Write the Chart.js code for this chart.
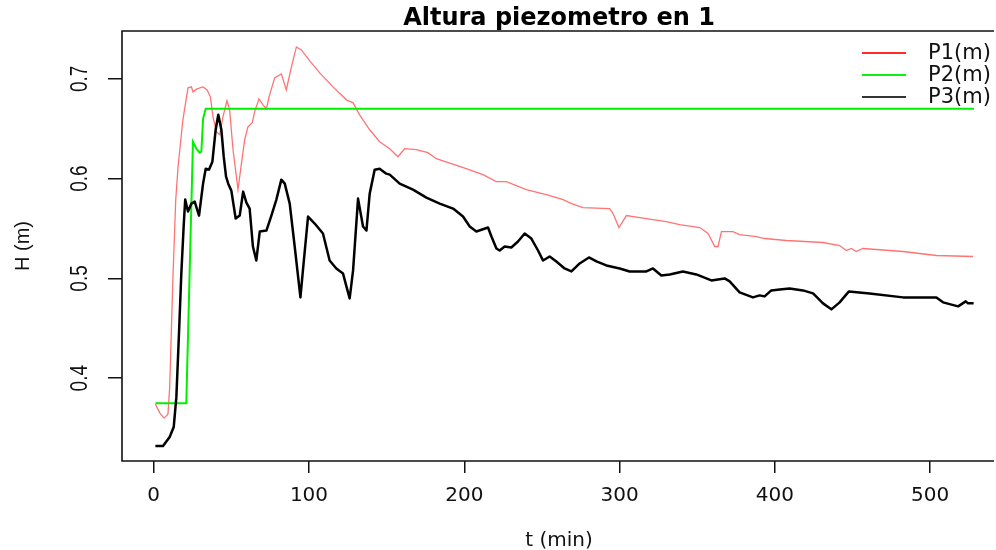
<!DOCTYPE html>
<html>
<head>
<meta charset="utf-8">
<title>Altura piezometro en 1</title>
<script src="https://cdn.jsdelivr.net/npm/chart.js@4/dist/chart.umd.min.js"></script>
<style>
  html, body { margin: 0; padding: 0; background: #fff; overflow: hidden; }
  canvas { display: block; }
</style>
</head>
<body>
<canvas id="chart" width="996" height="550"></canvas>
<script>
// Tick labels
const xTicks = [0, 100, 200, 300, 400, 500];
const yTicks = [0.4, 0.5, 0.6, 0.7];

// Series names
const seriesNames = ['P1(m)', 'P2(m)', 'P3(m)'];

// P1: time (min) and head (m)
const p1T = [1.1, 4.0, 6.7, 9.2, 10.3, 12.4, 14.2, 15.7, 18.8, 22.1, 24.3, 25.3, 27.9, 31.8, 34.4, 36.5,
  38.2, 40.4, 42.5, 44.6, 47.2, 48.9, 51.1, 54.3, 56.5, 58.6, 60.7, 63.5, 65.0, 67.8, 70.4, 72.6,
  74.3, 77.9, 82.2, 85.4, 88.7, 91.9, 95.1, 100.5, 106.9, 115.5, 124.1, 128.4, 132.6, 139.1, 145.5,
  152.0, 157.3, 161.6, 169.1, 176.6, 182.0, 201.3, 212.0, 220.6, 227.1, 239.9, 252.8, 263.6, 269.0,
  276.4, 293.6, 295.8, 299.6, 304.4, 317.2, 330.1, 338.7, 351.6, 357.0, 361.3, 363.4, 365.6, 373.0,
  377.3, 388.1, 393.4, 407.4, 431.0, 441.7, 446.0, 449.2, 452.4, 456.7, 482.5, 504.0, 527.6];
const p1H = [0.374, 0.365, 0.360, 0.364, 0.391, 0.501, 0.579, 0.612, 0.659, 0.691, 0.692, 0.687, 0.690, 0.692, 0.689, 0.682,
  0.662, 0.647, 0.644, 0.662, 0.678, 0.669, 0.629, 0.589, 0.615, 0.639, 0.652, 0.656, 0.667, 0.680, 0.674, 0.670,
  0.682, 0.701, 0.705, 0.689, 0.712, 0.732, 0.729, 0.718, 0.706, 0.692, 0.679, 0.676, 0.664, 0.649, 0.637,
  0.630, 0.622, 0.630, 0.629, 0.626, 0.620, 0.610, 0.604, 0.597, 0.597, 0.589, 0.584, 0.579, 0.575,
  0.571, 0.570, 0.565, 0.551, 0.563, 0.560, 0.557, 0.554, 0.551, 0.545, 0.532, 0.532, 0.547, 0.547,
  0.544, 0.542, 0.540, 0.538, 0.536, 0.533, 0.528, 0.530, 0.527, 0.530, 0.527, 0.523, 0.522];

// P2: time (min) and head (m)
const p2T = [1.1, 21.0, 25.3, 27.5, 29.6, 30.7, 31.8, 33.5, 528.2];
const p2H = [0.375, 0.375, 0.637, 0.630, 0.626, 0.627, 0.660, 0.670, 0.670];

// P3: time (min) and head (m)
const p3T = [1.1, 6.0, 10.3, 12.9, 14.6, 16.3, 17.8, 19.3, 20.3, 22.1, 24.3, 26.4, 29.2, 31.8, 33.5, 35.6,
  37.8, 39.9, 41.6, 43.6, 45.1, 46.6, 48.0, 50.0, 52.8, 55.4, 57.6, 59.7, 61.8, 63.9, 66.1, 68.3,
  72.6, 75.8, 79.0, 82.2, 84.4, 87.6, 90.8, 94.5, 96.1, 99.4, 103.7, 109.0, 113.3, 117.6, 121.9,
  124.1, 126.2, 128.4, 131.6, 134.8, 137.0, 139.1, 142.3, 145.5, 149.8, 152.0, 158.4, 167.0, 175.6,
  184.2, 192.8, 199.2, 203.5, 207.8, 215.3, 217.5, 220.7, 222.8, 226.0, 230.3, 234.6, 238.9, 243.2,
  247.5, 250.7, 255.0, 259.3, 264.6, 269.0, 274.3, 280.3, 285.1, 291.5, 300.1, 306.5, 317.3, 321.5,
  326.9, 332.3, 340.8, 349.4, 359.1, 367.7, 370.9, 377.3, 385.9, 390.2, 393.4, 397.7, 403.1, 409.5,
  418.1, 424.6, 431.0, 436.4, 441.7, 447.7, 461.0, 482.5, 504.0, 508.3, 518.0, 522.9, 524.4, 528.0];
const p3H = [0.332, 0.332, 0.341, 0.351, 0.381, 0.445, 0.505, 0.552, 0.579, 0.567, 0.575, 0.577, 0.563, 0.595, 0.610, 0.609,
  0.617, 0.649, 0.664, 0.649, 0.622, 0.602, 0.595, 0.588, 0.560, 0.563, 0.587, 0.576, 0.570, 0.532, 0.518, 0.547,
  0.548, 0.563, 0.579, 0.599, 0.595, 0.575, 0.532, 0.481, 0.508, 0.562, 0.555, 0.545, 0.518, 0.510, 0.505,
  0.492, 0.480, 0.508, 0.580, 0.552, 0.548, 0.585, 0.609, 0.610, 0.605, 0.604, 0.595, 0.589, 0.581,
  0.575, 0.570, 0.562, 0.552, 0.547, 0.551, 0.542, 0.530, 0.528, 0.532, 0.531, 0.537, 0.545, 0.540,
  0.528, 0.518, 0.522, 0.517, 0.510, 0.507, 0.515, 0.521, 0.517, 0.513, 0.510, 0.507, 0.507, 0.510,
  0.503, 0.504, 0.507, 0.504, 0.498, 0.500, 0.497, 0.486, 0.481, 0.483, 0.482, 0.488, 0.489, 0.490,
  0.488, 0.485, 0.475, 0.469, 0.476, 0.487, 0.485, 0.481, 0.481, 0.476, 0.472, 0.477, 0.475, 0.475];

const zip = (ts, hs) => ts.map((t, i) => ({ x: t, y: hs[i] }));

// Plot frame: left, top and bottom edges of the chart area, open on the right
const framePlugin = {
  id: 'frame',
  afterDraw(chart) {
    const { ctx, chartArea: a } = chart;
    ctx.save();
    ctx.strokeStyle = '#111';
    ctx.lineWidth = 1.6;
    ctx.beginPath();
    ctx.moveTo(a.right - 2, a.top);
    ctx.lineTo(a.left, a.top);
    ctx.lineTo(a.left, a.bottom);
    ctx.lineTo(a.right - 2, a.bottom);
    ctx.stroke();
    ctx.restore();
  }
};

// Vertical tick labels on the H axis
const yLabelPlugin = {
  id: 'yLabels',
  afterDraw(chart) {
    const { ctx } = chart;
    const ys = chart.scales.y;
    ctx.save();
    ctx.fillStyle = '#111';
    ctx.font = '19px "Liberation Sans", Arial, sans-serif';
    ctx.textAlign = 'center';
    ctx.textBaseline = 'middle';
    ys.ticks.forEach(tk => {
      const py = ys.getPixelForValue(tk.value);
      ctx.save();
      ctx.translate(80, py);
      ctx.scale(1.3, 1);
      ctx.rotate(-Math.PI / 2);
      ctx.fillText(String(tk.value), 0, 0);
      ctx.restore();
    });
    ctx.restore();
  }
};

// Line legend in the upper right corner
const legendColors = ['#ff2a2a', '#10f010', '#333'];
const legendPlugin = {
  id: 'lineLegend',
  afterDraw(chart) {
    const { ctx } = chart;
    ctx.save();
    ctx.font = '21px "DejaVu Sans", sans-serif';
    ctx.textAlign = 'left';
    ctx.textBaseline = 'middle';
    chart.data.datasets.forEach((ds, i) => {
      const y = 53 + i * 22;
      ctx.strokeStyle = legendColors[i];
      ctx.lineWidth = 2;
      ctx.beginPath();
      ctx.moveTo(862, y);
      ctx.lineTo(906, y);
      ctx.stroke();
      ctx.fillStyle = '#111';
      ctx.fillText(ds.label, 928, y + 1);
    });
    ctx.restore();
  }
};

new Chart(document.getElementById('chart'), {
  type: 'line',
  data: {
    datasets: [
      { label: seriesNames[0], data: zip(p1T, p1H), borderColor: 'rgba(255,0,0,0.55)', borderWidth: 1.3, order: 3 },
      { label: seriesNames[1], data: zip(p2T, p2H), borderColor: '#00f000', borderWidth: 2, order: 2 },
      { label: seriesNames[2], data: zip(p3T, p3H), borderColor: '#000', borderWidth: 2.5, order: 1, borderJoinStyle: 'round' }
    ]
  },
  options: {
    responsive: false,
    animation: false,
    devicePixelRatio: 1,
    layout: { padding: 0 },
    elements: { point: { radius: 0 }, line: { tension: 0, fill: false } },
    scales: {
      x: {
        type: 'linear',
        min: -20.4,
        max: 542.4,
        afterBuildTicks: s => { s.ticks = xTicks.map(v => ({ value: v })); },
        afterFit: s => { s.height = 89; },
        border: { display: false },
        grid: { drawOnChartArea: false, drawTicks: true, tickLength: 12, tickColor: '#111', tickWidth: 1.5, lineWidth: 1.5 },
        ticks: { autoSkip: false, maxRotation: 0, padding: 11, color: '#111', font: { family: 'DejaVu Sans', size: 20 } },
        title: { display: true, text: 't (min)', color: '#111', padding: { top: 0, bottom: 0 }, font: { family: 'DejaVu Sans', size: 20, lineHeight: 0.9 } }
      },
      y: {
        type: 'linear',
        min: 0.317,
        max: 0.748,
        afterBuildTicks: s => { s.ticks = yTicks.map(v => ({ value: v })); },
        afterFit: s => { s.width = 122; },
        border: { display: false },
        grid: { drawOnChartArea: false, drawTicks: true, tickLength: 14, tickColor: '#111', tickWidth: 1.5, lineWidth: 1.5 },
        ticks: { display: false },
        title: { display: true, text: 'H (m)', color: '#111', padding: { top: 13, bottom: 0 }, font: { family: 'Liberation Sans', size: 20, lineHeight: 1 } }
      }
    },
    plugins: {
      legend: { display: false },
      tooltip: { enabled: false },
      title: {
        display: true,
        fullSize: false,
        text: 'Altura piezometro en 1',
        color: '#000',
        padding: { top: 7, bottom: 0 },
        font: { family: 'DejaVu Sans', size: 24, weight: 'bold', lineHeight: 1 }
      }
    }
  },
  plugins: [framePlugin, yLabelPlugin, legendPlugin]
});
</script>
</body>
</html>
